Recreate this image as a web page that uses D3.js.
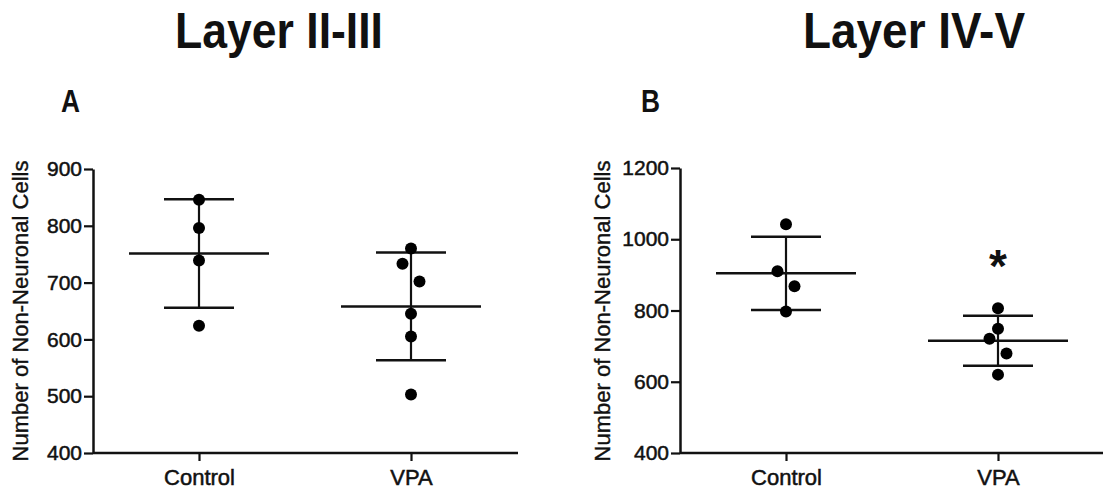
<!DOCTYPE html>
<html>
<head>
<meta charset="utf-8">
<script src="https://cdn.jsdelivr.net/npm/d3@7"></script>
<style>
  body { margin: 0; background: #fff; }
  text { font-family: "Liberation Sans", Arial, sans-serif; fill: #111; }
</style>
</head>
<body>
<div id="chart"></div>
<script>
// categories
var groups = ["Control", "VPA"];

// Layer II-III values
var layer23Control = [846, 796, 739, 624];
var layer23VPA = [760, 733, 702, 645, 605, 503];
// horizontal spread slot of each point (-1 left, 0 centre, 1 right)
var layer23ControlSpread = [0, 0, 0, 0];
var layer23VPASpread = [0, -1, 1, 0, 0, 0];
var layer23Ticks = [400, 500, 600, 700, 800, 900];

// Layer IV-V values
var layer45Control = [1042, 910, 868, 797];
var layer45VPA = [806, 749, 721, 679, 620];
var layer45ControlSpread = [0, -1, 1, 0];
var layer45VPASpread = [0, 0, -1, 1, 0];
var layer45Ticks = [400, 600, 800, 1000, 1200];

var panelTitles = ["Layer II-III", "Layer IV-V"];
var panelLetters = ["A", "B"];
var yLabel = "Number of Non-Neuronal Cells";

function init() {
  var w = 1103, h = 491;

  var svg = d3.select("#chart")
              .append("svg")
              .attr("width", w)
              .attr("height", h);

  function panel(opt) {
    var g = svg.append("g");

    var x = d3.scalePoint()
              .domain(groups)
              .range([opt.left, opt.left + 424])
              .padding(0.5);

    var y = d3.scaleLinear()
              .domain([opt.ticks[0], opt.ticks[opt.ticks.length - 1]])
              .range([453, opt.top]);

    // title and letter
    g.append("text")
     .attr("x", opt.titleX)
     .attr("y", 48)
     .attr("text-anchor", "middle")
     .attr("font-size", 50)
     .attr("font-weight", "bold")
     .attr("textLength", opt.titleW)
     .attr("lengthAdjust", "spacingAndGlyphs")
     .text(opt.title);

    g.append("text")
     .attr("x", opt.letterX)
     .attr("y", 112)
     .attr("font-size", 31)
     .attr("font-weight", "bold")
     .attr("textLength", 19)
     .attr("lengthAdjust", "spacingAndGlyphs")
     .text(opt.letter);

    // axes
    var yAxis = g.append("g")
                 .attr("transform", "translate(" + opt.left + ",0)")
                 .call(d3.axisLeft(y).tickValues(opt.ticks).tickFormat(d3.format("d"))
                         .tickSize(9).tickPadding(2).tickSizeOuter(0));

    var xAxis = g.append("g")
                 .attr("transform", "translate(0,453)")
                 .call(d3.axisBottom(x).tickSize(8).tickPadding(8).tickSizeOuter(0));

    [yAxis, xAxis].forEach(function(a) {
      a.select(".domain").attr("stroke", "#111").attr("stroke-width", 2.5);
      a.selectAll(".tick line").attr("stroke", "#111").attr("stroke-width", 2.2);
      a.selectAll(".tick text").attr("font-size", 21).attr("fill", "#111")
       .attr("stroke", "#111").attr("stroke-width", 0.5)
       .attr("font-family", "'Liberation Sans', Arial, sans-serif");
    });
    xAxis.selectAll(".tick text").attr("font-size", 22);
    // x axis starts exactly at the y axis
    xAxis.select(".domain").attr("d", "M" + opt.left + ",0H" + opt.right);

    g.append("text")
     .attr("transform", "translate(" + opt.labelX + ",311) rotate(-90)")
     .attr("text-anchor", "middle")
     .attr("font-size", 22)
     .attr("stroke", "#111").attr("stroke-width", 0.4)
     .text(yLabel);

    // groups: mean line, SD bar, points
    opt.series.forEach(function(s, gi) {
      var cx = x(groups[gi]);
      var m = d3.mean(s.values);
      var sd = d3.deviation(s.values);

      var grp = g.append("g");

      grp.append("line")
         .attr("x1", cx).attr("x2", cx)
         .attr("y1", y(m + sd)).attr("y2", y(m - sd))
         .attr("stroke", "#111").attr("stroke-width", 2.2);

      [m + sd, m - sd].forEach(function(v) {
        grp.append("line")
           .attr("x1", cx - 35).attr("x2", cx + 35)
           .attr("y1", y(v)).attr("y2", y(v))
           .attr("stroke", "#111").attr("stroke-width", 2.5);
      });

      grp.append("line")
         .attr("x1", cx - 70).attr("x2", cx + 70)
         .attr("y1", y(m)).attr("y2", y(m))
         .attr("stroke", "#111").attr("stroke-width", 2.5);

      grp.selectAll("circle")
         .data(s.values)
         .enter()
         .append("circle")
         .attr("cx", function(d, i) { return cx + s.spread[i] * 8.5; })
         .attr("cy", function(d) { return y(d); })
         .attr("r", 6)
         .attr("fill", "#000");

      if (s.star) {
        grp.append("text")
           .attr("x", cx)
           .attr("y", y(d3.max(s.values)) - 26)
           .attr("text-anchor", "middle")
           .attr("font-size", 46)
           .attr("font-weight", "bold")
           .text("*");
      }
    });
  }

  panel({
    left: 93, right: 518, top: 169,
    ticks: layer23Ticks,
    title: panelTitles[0], titleX: 279, titleW: 208,
    letter: panelLetters[0], letterX: 61,
    labelX: 28,
    series: [
      { values: layer23Control, spread: layer23ControlSpread },
      { values: layer23VPA, spread: layer23VPASpread }
    ]
  });

  panel({
    left: 680, right: 1103, top: 168,
    ticks: layer45Ticks,
    title: panelTitles[1], titleX: 914, titleW: 222,
    letter: panelLetters[1], letterX: 641,
    labelX: 610,
    series: [
      { values: layer45Control, spread: layer45ControlSpread },
      { values: layer45VPA, spread: layer45VPASpread, star: true }
    ]
  });
}

window.onload = init;
</script>
</body>
</html>
